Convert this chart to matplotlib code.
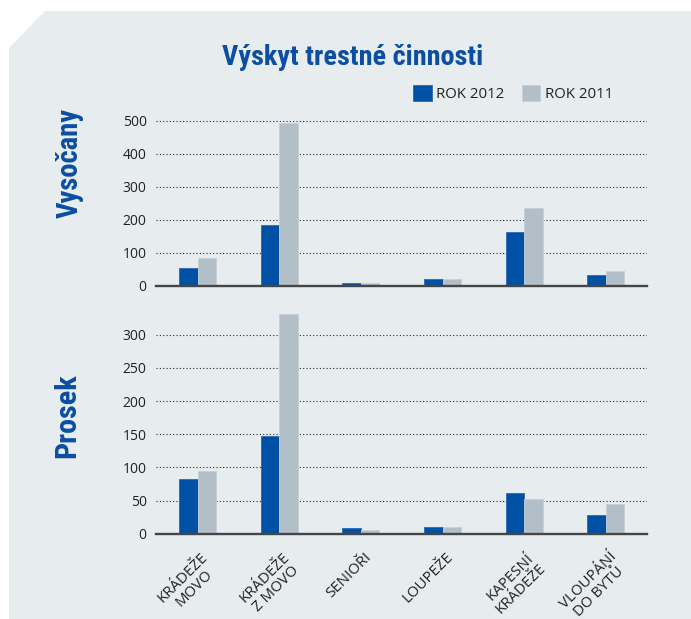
import matplotlib
matplotlib.use("Agg")
import matplotlib.pyplot as plt
from matplotlib.patches import Polygon
from matplotlib import font_manager as fm
from matplotlib.transforms import ScaledTranslation
import numpy as np

# ---------------- data ----------------
categories = ["KRÁDEŽE\nMOVO", "KRÁDEŽE\nZ MOVO", "SENIOŘI", "LOUPEŽE", "KAPESNÍ\nKRÁDEŽE", "VLOUPÁNÍ\nDO BYTŮ"]
series_names = ["ROK 2012", "ROK 2011"]
vysocany_2012 = [55, 183, 8, 19, 164, 31]
vysocany_2011 = [84, 493, 7, 19, 234, 44]
prosek_2012 = [83, 148, 8, 10, 62, 28]
prosek_2011 = [95, 331, 5, 10, 52, 45]
vysocany_ticks = [0, 100, 200, 300, 400, 500]
prosek_ticks = [0, 50, 100, 150, 200, 250, 300]
title = "Výskyt trestné činnosti"
panel_names = ["Vysočany", "Prosek"]

# ---------------- style ----------------
BLUE = "#0050a3"
BLUE_EDGE = "#2f67b0"
GREY = "#b3bfc8"
GREY_EDGE = "#c6d0d7"
BG = "#e7ecef"
TXT = "#222222"
HEAD_BLUE = "#0b4ea2"

names = {f.name for f in fm.fontManager.ttflist}
head_font = "DejaVu Sans"
for cand in ["Liberation Sans Narrow", "DejaVu Sans Condensed", "Roboto Condensed", "Open Sans Condensed"]:
    if cand in names:
        head_font = cand
        break
else:
    head_font = "Lato" if "Lato" in names else "DejaVu Sans"
body_font = "Open Sans" if "Open Sans" in names else "DejaVu Sans"
plt.rcParams["font.family"] = [body_font, "DejaVu Sans"]

W, H, DPI = 691, 619, 100
fig = plt.figure(figsize=(W / DPI, H / DPI), dpi=DPI, facecolor="white")

def fx(x):
    return x / W

def fy(y):
    return 1 - y / H

bg = Polygon([(fx(9), fy(48)), (fx(45), fy(11)), (1, fy(11)), (1, 0), (fx(9), 0)],
             closed=True, transform=fig.transFigure, facecolor=BG, edgecolor="none", zorder=-10)
fig.patches.append(bg)

x_left, x_right = 155.7, 646.7
x = np.arange(len(categories))
w = 0.227

def make_axes(y0_px, px_per_unit, ymax):
    height = ymax * px_per_unit
    ax = fig.add_axes([fx(x_left), fy(y0_px), (x_right - x_left) / W, height / H])
    ax.set_facecolor("none")
    ax.set_zorder(2)
    for s in ax.spines.values():
        s.set_visible(False)
    ax.set_xlim(-0.512, 5.50)
    ax.set_ylim(0, ymax)
    return ax

ax1 = make_axes(285.7, 0.33, 520)
ax2 = make_axes(533.7, 0.6633, 335)

def draw(ax, v12, v11, ticks):
    b1 = ax.bar(x - w / 2, v12, w, color=BLUE, edgecolor=BLUE_EDGE, linewidth=0.6, zorder=3, label=series_names[0])
    b2 = ax.bar(x + w / 2, v11, w, color=GREY, edgecolor=GREY_EDGE, linewidth=0.6, zorder=3, label=series_names[1])
    ax.set_yticks(ticks)
    ax.set_yticklabels([str(t) for t in ticks])
    ax.yaxis.grid(True, linestyle=(0, (1, 2)), color="#2a2a2a", linewidth=0.8, zorder=1)
    ax.set_axisbelow(True)
    ax.axhline(0, color="#454545", linewidth=1.7, zorder=5, clip_on=False)
    ax.tick_params(axis="y", length=0, pad=6.5, labelsize=10, labelcolor=TXT)
    return b1, b2

b1, b2 = draw(ax1, vysocany_2012, vysocany_2011, vysocany_ticks)
draw(ax2, prosek_2012, prosek_2011, prosek_ticks)

ax1.set_xticks([])
ax2.set_xticks(x)
ax2.set_xticklabels(categories, rotation=45, ha="right", va="top", rotation_mode="anchor",
                    multialignment="center", linespacing=1.05)
ax2.tick_params(axis="x", length=0, pad=11.5, labelsize=10.8, labelcolor=TXT)
shift = ScaledTranslation(3 / DPI, 0, fig.dpi_scale_trans)
for lab in ax2.get_xticklabels():
    lab.set_transform(lab.get_transform() + shift)

# legend
leg = fig.legend(handles=[b1, b2], labels=series_names, loc="upper left",
                 bbox_to_anchor=(fx(413.3), fy(85)), ncol=2, frameon=False,
                 fontsize=10.8, handlelength=1.23, handleheight=1.27, handletextpad=0.3,
                 columnspacing=1.15, borderpad=0, borderaxespad=0)
for t in leg.get_texts():
    t.set_color(TXT)

# headings
t_title = fig.text(fx(352.9), fy(65), title, ha="center", va="baseline", fontsize=18,
                   fontweight="bold", color=HEAD_BLUE, family=[head_font, "DejaVu Sans"])
t_v = fig.text(fx(78), fy(163), panel_names[0], rotation=90, rotation_mode="anchor",
               ha="center", va="baseline", fontsize=18, fontweight="bold", color=HEAD_BLUE,
               family=[head_font, "DejaVu Sans"])
t_p = fig.text(fx(75), fy(415.5), panel_names[1], rotation=90, rotation_mode="anchor",
               ha="center", va="baseline", fontsize=18, fontweight="bold", color=HEAD_BLUE,
               family=[head_font, "DejaVu Sans"])

renderer = fig.canvas.get_renderer()

def fit(t, target, vertical=False):
    bb = t.get_window_extent(renderer)
    cur = bb.height if vertical else bb.width
    t.set_fontsize(t.get_fontsize() * target / cur)

fit(t_title, 260)
fit(t_v, 110, vertical=True)
fit(t_p, 85, vertical=True)

fig.savefig("out.png", dpi=DPI, facecolor="white")
